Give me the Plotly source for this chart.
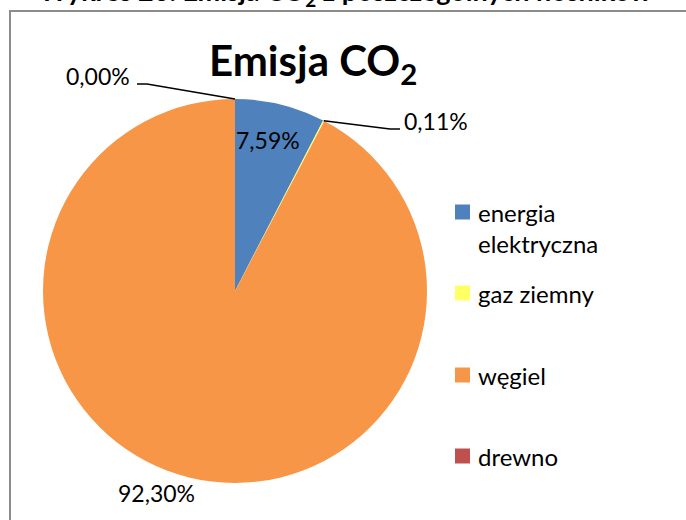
import math
import plotly.graph_objects as go

# Emission shares by energy carrier (percent)
labels = ["energia elektryczna", "gaz ziemny", "węgiel", "drewno"]
values = [7.59, 0.11, 92.30, 0.00]
colors = ["#4F81BD", "#FFFF66", "#F79646", "#C0504D"]

chart_title = "Emisja CO<sub>2</sub>"
header = "Wykres 20. Emisja CO<sub>2</sub> z poszczególnych nośników"

W, H = 686, 520
FONT = "Lato"

def px(x):
    return x / W

def py(y):
    return 1 - y / H

# pie geometry in pixels
cx, cy, r = 235, 291, 192

fig = go.Figure(
    go.Pie(
        labels=labels,
        values=values,
        sort=False,
        direction="clockwise",
        rotation=0,
        marker=dict(colors=colors, line=dict(width=0)),
        textinfo="none",
        hoverinfo="label+percent",
        showlegend=False,
        domain=dict(x=[px(cx - r), px(cx + r)], y=[py(cy + r), py(cy - r)]),
    )
)

def fmt(v):
    return f"{v:.2f}%".replace(".", ",")

def edge_point(frac):
    a = 2 * math.pi * frac
    return cx + r * math.sin(a), cy - r * math.cos(a)

total = sum(values)
cum = [sum(values[:i]) for i in range(len(values))]
mids = [(cum[i] + values[i] / 2) / total for i in range(len(values))]

shapes = []
annotations = []

# chart frame
shapes.append(dict(type="rect", xref="paper", yref="paper",
                   x0=px(10), x1=px(W + 20), y0=py(H + 20), y1=py(11),
                   line=dict(color="#8c8c8c", width=2), layer="below"))

# data labels
label_pos = [(268, 140), (436, 121), (156, 493), (98, 76)]
for v, (x, y) in zip(values, label_pos):
    annotations.append(dict(x=px(x), y=py(y), xref="paper", yref="paper",
                            text=fmt(v), showarrow=False,
                            xanchor="center", yanchor="middle",
                            font=dict(family=FONT, size=23, color="#000")))

# leader lines for the two thin slices
def leader(points):
    d = "M " + " L ".join(f"{px(x)},{py(y)}" for x, y in points)
    return dict(type="path", xref="paper", yref="paper", path=d,
                line=dict(color="#000", width=1.5))

gx, gy = edge_point(mids[1])
shapes.append(leader([(gx, gy), (390, 129), (400, 129)]))
dx, dy = edge_point(mids[3])
shapes.append(leader([(137, 84), (147, 84), (dx, dy)]))

# legend
legend_rows = [212, 293, 375, 456]
for lab, col, yc in zip(labels, colors, legend_rows):
    shapes.append(dict(type="rect", xref="paper", yref="paper",
                       x0=px(455), x1=px(470), y0=py(yc + 7.5), y1=py(yc - 7.5),
                       fillcolor=col, line=dict(width=0)))
    words = lab.split(" ")
    text = "<br>".join(words) if len(lab) > 12 else lab
    nlines = text.count("<br>") + 1
    annotations.append(dict(x=px(476), y=py(yc + (nlines - 1) * 31 / 2),
                            xref="paper", yref="paper", text=text,
                            showarrow=False, align="left",
                            xanchor="left", yanchor="middle",
                            font=dict(family=FONT, size=24, color="#000")))

# titles
annotations.append(dict(x=px(313), y=py(63), xref="paper", yref="paper",
                        text=f"<b>{chart_title}</b>", showarrow=False,
                        xanchor="center", yanchor="middle",
                        font=dict(family=FONT, size=42, color="#000")))
annotations.append(dict(x=px(345), y=py(13), xref="paper", yref="paper",
                        text=f"<b>{header}</b>", showarrow=False,
                        xanchor="center", yanchor="bottom",
                        font=dict(family=FONT, size=27, color="#000")))

fig.update_layout(
    width=W, height=H,
    margin=dict(l=0, r=0, t=0, b=0),
    paper_bgcolor="white",
    plot_bgcolor="white",
    shapes=shapes,
    annotations=annotations,
)

fig.write_html("out.html")
